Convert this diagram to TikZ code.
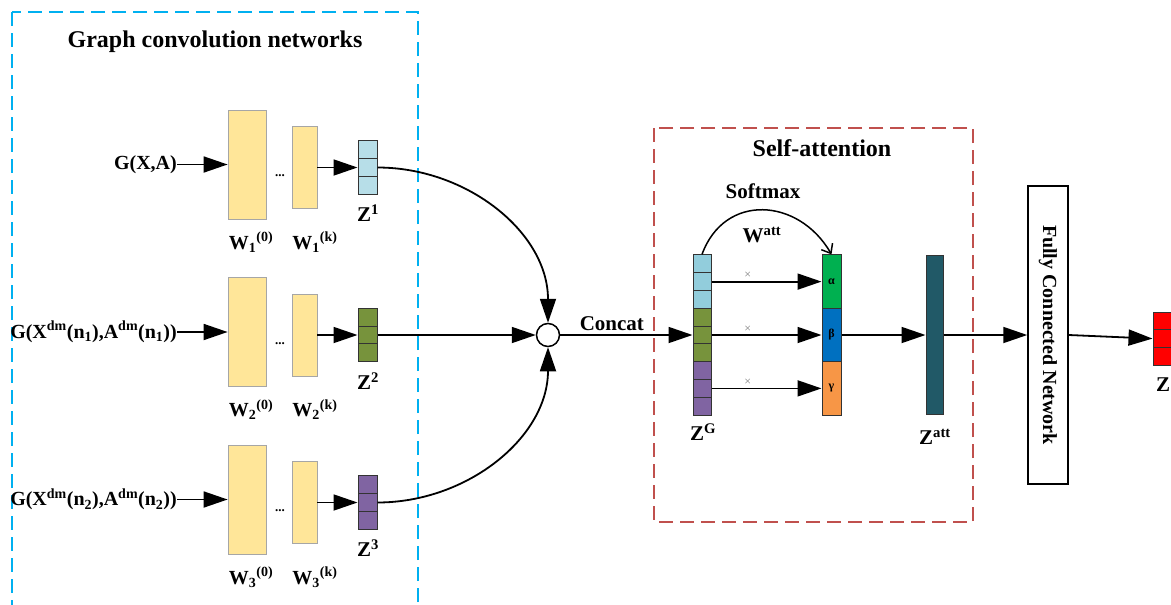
\documentclass[tikz,border=0pt]{standalone}
\usepackage{fontspec}
\setmainfont{Liberation Serif}
\usetikzlibrary{arrows.meta}
\definecolor{gcnblue}{HTML}{00B0F0}
\definecolor{attred}{HTML}{C0504D}
\definecolor{wyellow}{HTML}{FFE699}
\definecolor{wedge}{HTML}{A6A6A6}
\definecolor{zone}{HTML}{B7DEE8}
\definecolor{zblue}{HTML}{92CDDC}
\definecolor{zgreen}{HTML}{77933C}
\definecolor{zpurple}{HTML}{8064A2}
\definecolor{agreen}{HTML}{00B050}
\definecolor{ablue}{HTML}{0070C0}
\definecolor{aorange}{HTML}{F79646}
\definecolor{zatt}{HTML}{215967}
\begin{document}
\begin{tikzpicture}[x=1pt,y=1pt,
ttl/.style={font=\fontsize{24}{28}\selectfont\bfseries,inner sep=0pt},
lbl/.style={font=\fontsize{20}{24}\selectfont\bfseries,inner sep=0pt},
zlbl/.style={font=\fontsize{21}{25}\selectfont\bfseries,inner sep=0pt},
times/.style={font=\fontsize{12}{14}\selectfont,text=gray,inner sep=0pt},
wbox/.style={draw=wedge,fill=wyellow,line width=.8pt,inner sep=0pt},
cell/.style={draw=black!80,line width=1pt,minimum width=19pt,minimum height=17.7pt,inner sep=0pt},
gcell/.style={draw=black!80,line width=1pt,minimum width=18pt,minimum height=17.8pt,inner sep=0pt},
acell/.style={draw=black!80,line width=1pt,minimum width=19pt,minimum height=53.4pt,inner sep=0pt,font=\fontsize{12}{14}\selectfont\bfseries},
arr/.style={line width=1.8pt,-{Triangle[length=24pt,width=16pt]}},
frame/.style={line width=1.8pt,dash pattern=on 14pt off 7pt}]
\useasboundingbox (0,0) rectangle (1171,-605);

\draw[frame,gcnblue] (12,-12) rectangle (418,-650);
\draw[frame,attred] (654,-128) rectangle (973,-522);
\node (gcn) at (215,-42) [ttl] {Graph convolution networks};
\node (sa) at (822,-148) [ttl] {Self-attention};

\node (in1) at (177,-164.5) [lbl,anchor=east] {G(X,A)};
\node (wa1) at (247,-164.5) [wbox,minimum width=38pt,minimum height=109pt] {};
\node (wb1) at (304.5,-167.5) [wbox,minimum width=25pt,minimum height=82pt] {};
\node (d1) at (280,-176) [font=\fontsize{13}{14}\selectfont\bfseries,inner sep=0pt] {...};
\node (z1-1) at (367.5,-149.8) [cell,fill=zone] {};
\node (z1-2) at (367.5,-167.5) [cell,fill=zone] {};
\node (z1-3) at (367.5,-185.2) [cell,fill=zone] {};
\node (wla1) at (251,-242) [lbl] {W\textsubscript{1}\textsuperscript{(0)}};
\node (wlb1) at (315,-242) [lbl] {W\textsubscript{1}\textsuperscript{(k)}};
\node (zl1) at (368,-213) [zlbl] {Z\textsuperscript{1}};

\node (in2) at (177,-332) [lbl,anchor=east] {G(X\textsuperscript{dm}(n\textsubscript{1}),A\textsuperscript{dm}(n\textsubscript{1}))};
\node (wa2) at (247,-332) [wbox,minimum width=38pt,minimum height=109pt] {};
\node (wb2) at (304.5,-335) [wbox,minimum width=25pt,minimum height=82pt] {};
\node (d2) at (280,-343.5) [font=\fontsize{13}{14}\selectfont\bfseries,inner sep=0pt] {...};
\node (z2-1) at (367.5,-317.3) [cell,fill=zgreen] {};
\node (z2-2) at (367.5,-335) [cell,fill=zgreen] {};
\node (z2-3) at (367.5,-352.7) [cell,fill=zgreen] {};
\node (wla2) at (251,-409.5) [lbl] {W\textsubscript{2}\textsuperscript{(0)}};
\node (wlb2) at (315,-409.5) [lbl] {W\textsubscript{2}\textsuperscript{(k)}};
\node (zl2) at (368,-381) [zlbl] {Z\textsuperscript{2}};

\node (in3) at (177,-499.5) [lbl,anchor=east] {G(X\textsuperscript{dm}(n\textsubscript{2}),A\textsuperscript{dm}(n\textsubscript{2}))};
\node (wa3) at (247,-499.5) [wbox,minimum width=38pt,minimum height=109pt] {};
\node (wb3) at (304.5,-502.5) [wbox,minimum width=25pt,minimum height=82pt] {};
\node (d3) at (280,-511) [font=\fontsize{13}{14}\selectfont\bfseries,inner sep=0pt] {...};
\node (z3-1) at (367.5,-484.8) [cell,fill=zpurple] {};
\node (z3-2) at (367.5,-502.5) [cell,fill=zpurple] {};
\node (z3-3) at (367.5,-520.2) [cell,fill=zpurple] {};
\node (wla3) at (251,-577) [lbl] {W\textsubscript{3}\textsuperscript{(0)}};
\node (wlb3) at (315,-577) [lbl] {W\textsubscript{3}\textsuperscript{(k)}};
\node (zl3) at (368,-548) [zlbl] {Z\textsuperscript{3}};

\node (cat) at (548,-335) [draw,circle,line width=1.5pt,minimum size=23pt,inner sep=0pt] {};

\node (zg-1) at (702,-263.8) [gcell,fill=zblue] {};
\node (zg-2) at (702,-281.6) [gcell,fill=zblue] {};
\node (zg-3) at (702,-299.4) [gcell,fill=zblue] {};
\node (zg-4) at (702,-317.2) [gcell,fill=zgreen] {};
\node (zg-5) at (702,-335) [gcell,fill=zgreen] {};
\node (zg-6) at (702,-352.8) [gcell,fill=zgreen] {};
\node (zg-7) at (702,-370.6) [gcell,fill=zpurple] {};
\node (zg-8) at (702,-388.4) [gcell,fill=zpurple] {};
\node (zg-9) at (702,-406.2) [gcell,fill=zpurple] {};
\node (zgl) at (703,-432) [zlbl] {Z\textsuperscript{G}};

\node (att-1) at (831.5,-281.6) [acell,fill=agreen] {α};
\node (att-2) at (831.5,-335) [acell,fill=ablue] {β};
\node (att-3) at (831.5,-388.4) [acell,fill=aorange] {γ};
\node (smx) at (763,-191) [zlbl] {Softmax};
\node (watt) at (762,-235) [zlbl] {W\textsuperscript{att}};

\node (za) at (934.5,-335) [draw=black!80,line width=1pt,fill=zatt,minimum width=17pt,minimum height=159pt,inner sep=0pt] {};
\node (zal) at (935,-437) [zlbl] {Z\textsuperscript{att}};

\node (fc) at (1048,-335) [draw,line width=1.5pt,minimum width=40pt,minimum height=298pt,inner sep=0pt,
  label={[lbl,rotate=-90]center:Fully Connected Network}] {};

\node (zo-1) at (1162.5,-320.9) [cell,fill=red] {};
\node (zo-2) at (1162.5,-338.6) [cell,fill=red] {};
\node (zo-3) at (1162.5,-356.3) [cell,fill=red] {};
\node (zol) at (1163,-385) [zlbl] {Z};

\draw[arr] (in1) to (wa1);
\draw[arr] (wb1) to (z1-2.west);
\draw[arr] (in2) to (wa2);
\draw[arr] (wb2) to (z2-2.west);
\draw[arr] (in3) to (wa3);
\draw[arr] (wb3) to (z3-2.west);

\draw[arr] (z1-2.east) to[out=0,in=90] (cat.north);
\draw[arr] (z2-2.east) to (cat.west);
\draw[arr] (z3-2.east) to[out=0,in=-90] (cat.south);
\draw[arr] (cat.east) to node[pos=.39,above=3pt,zlbl] {Concat} (zg-5.west);

\draw[arr] (zg-2.east) to node[pos=.33,above=2pt,times] {×} (att-1.west);
\draw[arr] (zg-5.east) to node[pos=.33,above=2pt,times] {×} (att-2.west);
\draw[arr] (zg-8.east) to node[pos=.33,above=2pt,times] {×} (att-3.west);
\draw[line width=1.5pt,-{Straight Barb[length=8pt,width=13pt]}] (zg-1.north) to[out=70,in=120,looseness=1.3] (att-1.north);

\draw[arr] (att-2) to (za);
\draw[arr] (za) to (fc);
\draw[arr] (fc.east) to (zo-2.west);
\end{tikzpicture}
\end{document}
